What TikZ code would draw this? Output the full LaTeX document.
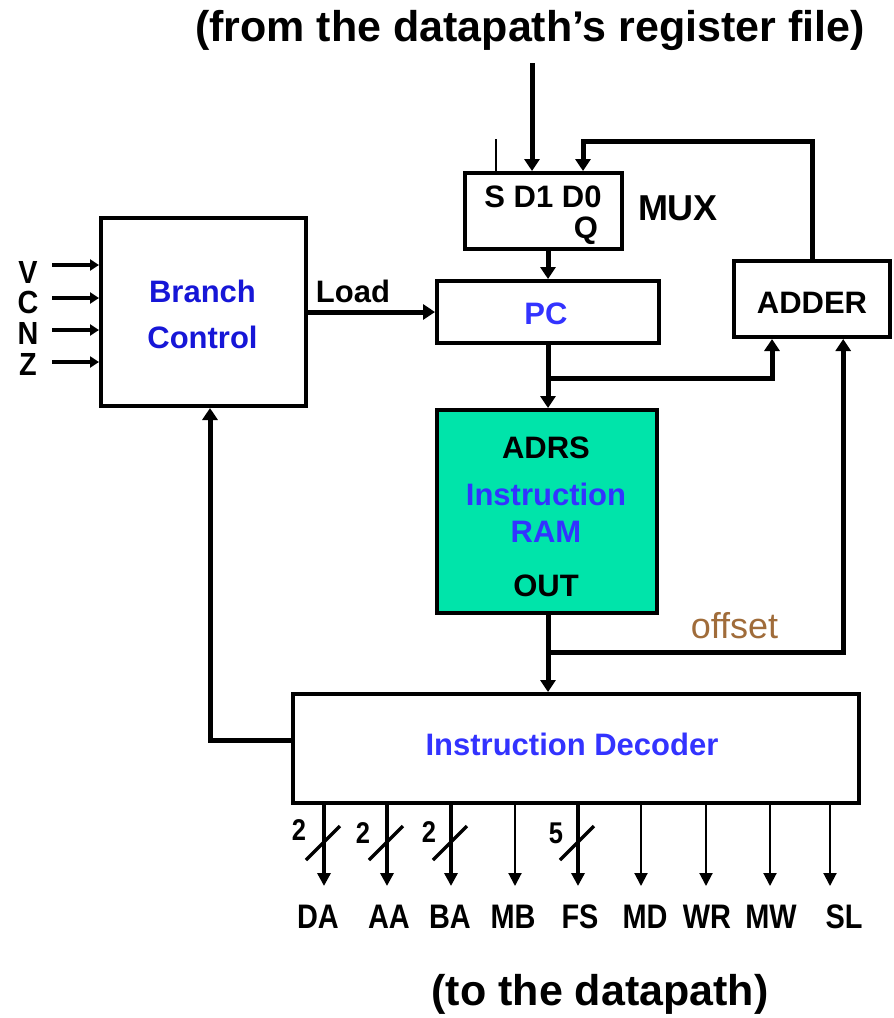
\documentclass[tikz,border=0pt]{standalone}
\usepackage{fontspec}
\setmainfont{Liberation Sans}
\usetikzlibrary{arrows.meta,calc}
\definecolor{ramgreen}{RGB}{0,228,170}
\definecolor{lblue}{RGB}{51,51,255}
\definecolor{dblue}{RGB}{22,22,215}
\definecolor{offbrown}{RGB}{160,108,58}
\newcommand{\narrow}[1]{\scalebox{0.85}[1]{#1}}
\begin{document}
\begin{tikzpicture}[x=1pt,y=-1pt,
  box/.style={draw,line width=4pt,inner sep=0pt},
  thk/.style={line width=5pt},
  othk/.style={line width=4.5pt},
  thn/.style={line width=2pt},
  arr/.style={-{Triangle[length=12pt,width=15pt]}},
  sarr/.style={-{Triangle[length=13pt,width=13pt]}},
  lbl/.style={font=\fontsize{31}{36}\selectfont\bfseries,inner sep=0pt,anchor=base},
  slbl/.style={font=\fontsize{34}{38}\selectfont\bfseries,inner sep=0pt,anchor=base},
  dlbl/.style={font=\fontsize{30}{34}\selectfont\bfseries,inner sep=0pt,anchor=base},
  big/.style={font=\fontsize{43}{48}\selectfont\bfseries,inner sep=0pt,anchor=base},
  slash/.style={line width=3.5pt}]
\useasboundingbox (0,0) rectangle (894,1018);

% boxes
\node[box,minimum width=157pt,minimum height=76pt] (mux) at (543.5,211) {};
\node[box,minimum width=222pt,minimum height=62pt] (pc) at (548,312) {};
\node[box,minimum width=156pt,minimum height=76pt] (adder) at (812,299) {};
\node[box,minimum width=205pt,minimum height=188pt] (bc) at (203.5,312) {};
\node[box,fill=ramgreen,minimum width=220pt,minimum height=203pt] (ram) at (547,511.5) {};
\node[box,minimum width=566pt,minimum height=109pt] (dec) at (576,748.5) {};

% texts
\node[big] (title) at (530,41) {(from the datapath’s register file)};
\node[big] (bottom) at (600,1005) {(to the datapath)};
\node[lbl] (sdd) at (543,207) {S D1 D0};
\node[lbl] (q) at (586,238) {Q};
\node[lbl,font=\fontsize{36}{40}\selectfont\bfseries] (muxl) at (678,220) {MUX};
\node[lbl,text=lblue] (pcl) at (546,324) {PC};
\node[lbl] (adderl) at (812,313) {ADDER};
\node[lbl,text=dblue] (br) at (202.5,302) {Branch};
\node[lbl,text=dblue] (ctl) at (202.5,348) {Control};
\node[lbl] (load) at (353,302) {Load};
\node[lbl] (adrs) at (546,458) {ADRS};
\node[lbl,text=lblue] (ins) at (546,505) {Instruction};
\node[lbl,text=lblue] (raml) at (546,542) {RAM};
\node[lbl] (out) at (546,596) {OUT};
\node[inner sep=0pt,anchor=base,font=\fontsize{36}{40}\selectfont,text=offbrown] (offset) at (734.5,638) {offset};
\node[lbl,text=lblue] (decl) at (572,755) {Instruction Decoder};

% VCNZ inputs
\foreach \n/\t/\yb/\ya in {v/V/283/265, c/C/313/298, n/N/344/330, z/Z/375/362}{
  \node[lbl,font=\fontsize{32}{36}\selectfont\bfseries] (\n) at (28,\yb) {\scalebox{0.9}[1]{\t}};
  \coordinate (\n s) at (52,\ya);
  \draw[line width=4pt,-{Triangle[length=9pt,width=11pt]}] (\n s) -- (\n s -| bc.west);
}

% top inputs to MUX
\coordinate (tin) at (532,63);
\draw[thk,arr] (tin) -- (tin |- mux.north);
\coordinate (sin) at (496,139);
\draw[thn] (sin) -- (sin |- mux.north);
\coordinate (d0) at (583,141);
\draw[thk,arr] (adder.north) |- (d0) -- (d0 |- mux.north);

% MUX -> PC
\draw[thk,arr] (pc.north |- mux.south) -- (pc.north);
% Load
\draw[thk,arr] (bc.east |- pc.west) -- (pc.west);
% PC -> RAM and adder
\draw[thk,arr] (pc.south) -- (pc.south |- ram.north);
\coordinate (j1) at (548,378);
\coordinate (ain1) at ($(adder.south west)!0.25!(adder.south east)$);
\coordinate (ain2) at ($(adder.south west)!0.695!(adder.south east)$);
\draw[thk,arr] (j1) -| (ain1);
% RAM -> decoder and offset
\coordinate (rx) at (548,0);
\draw[thk,arr] (rx |- ram.south) -- (rx |- dec.north);
\coordinate (j2) at (548,652);
\draw[thk,arr] (j2) -| (ain2);
% decoder -> branch control
\coordinate (dl) at (0,740);
\coordinate (bx) at ($(bc.south)+(6.5,0)$);
\draw[thk,arr] (dec.west |- dl) -| (bx);

% outputs
\coordinate (oend) at (0,886);
\foreach \n/\x/\w in {da/324/othk, aa/387/othk, ba/451/othk, mb/515/thn, fs/578/othk, md/641/thn, wr/706/thn, mw/770/thn, sl/830/thn}{
  \coordinate (\n o) at (\x,0);
  \draw[\w,sarr] (\n o |- dec.south) -- (\n o |- oend);
}
\foreach \n in {da, aa, ba, fs}{
  \draw[slash] ($(\n o |- oend)+(-18,-26)$) -- ($(\n o |- oend)+(16,-60)$);
}
\foreach \n/\t/\x in {da/DA/318, aa/AA/389, ba/BA/450, mb/MB/513, fs/FS/580, md/MD/645, wr/WR/707, mw/MW/771, sl/SL/844}{
  \node[slbl] (\n l) at (\x,928) {\narrow{\t}};
}
\node[dlbl] (w1) at (299,840) {\narrow{2}};
\node[dlbl] (w2) at (363,843) {\narrow{2}};
\node[dlbl] (w3) at (429,842) {\narrow{2}};
\node[dlbl] (w4) at (556,843) {\narrow{5}};
\end{tikzpicture}
\end{document}
